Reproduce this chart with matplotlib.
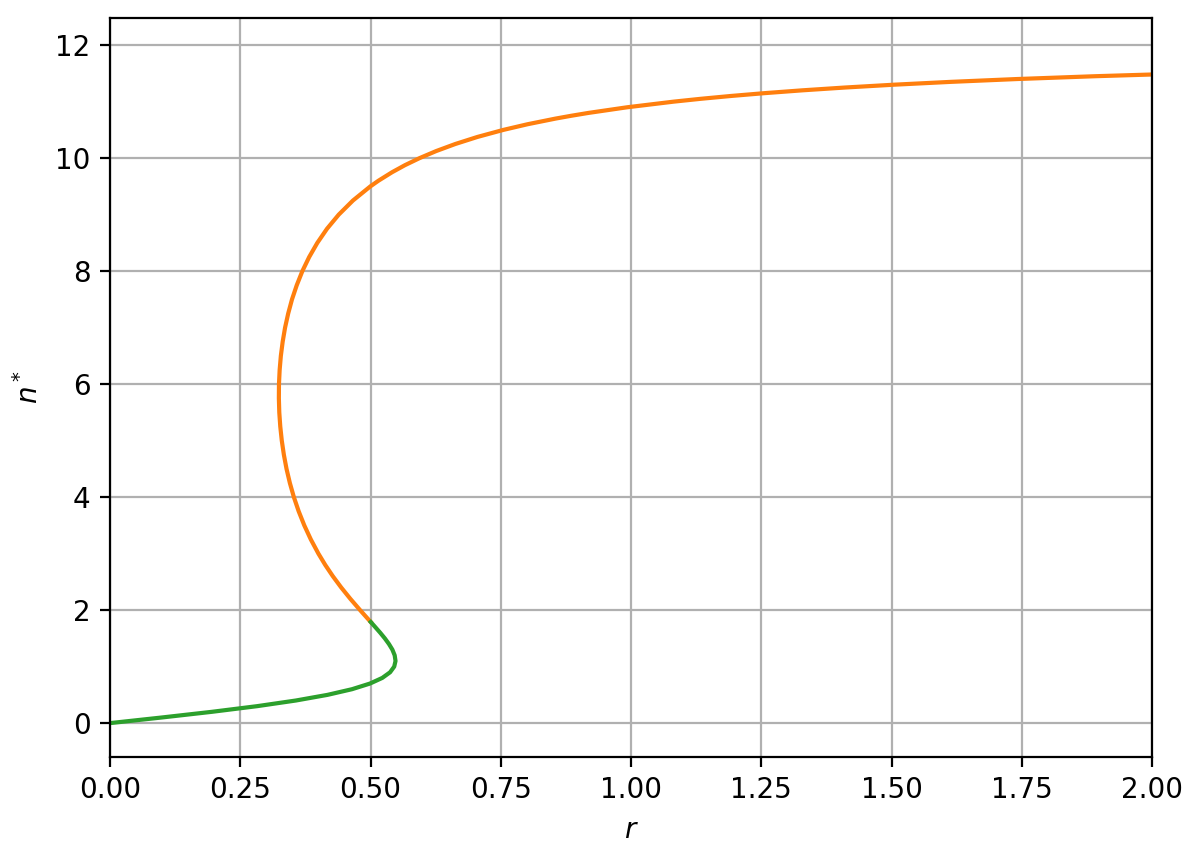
import matplotlib
matplotlib.use("Agg")
import matplotlib.pyplot as plt

# lower (stable) branch
n_low = [0.0, 0.1, 0.2, 0.3, 0.4, 0.5, 0.6, 0.7, 0.8, 0.9, 1.0, 1.1, 1.2,
         1.3, 1.4, 1.5, 1.6, 1.7, 1.75, 1.79]
r_low = [0.0, 0.0998, 0.1956, 0.2823, 0.3567, 0.4174, 0.4644, 0.4989, 0.5226,
         0.5376, 0.5455, 0.5480, 0.5464, 0.5420, 0.5354, 0.5275, 0.5186,
         0.5091, 0.5043, 0.5004]

# middle / upper branch
n_up = [1.79, 1.8, 2.0, 2.2, 2.4, 2.6, 2.8, 3.0, 3.25, 3.5, 3.75, 4.0, 4.25,
        4.5, 4.75, 5.0, 5.25, 5.5, 5.75, 6.0, 6.25, 6.5, 6.75, 7.0, 7.25, 7.5,
        7.75, 8.0, 8.25, 8.5, 8.75, 9.0, 9.25, 9.5, 9.6, 9.75, 9.875, 10.0,
        10.125, 10.25, 10.375, 10.5, 10.6, 10.7, 10.75, 10.8, 10.9, 11.0,
        11.05, 11.1, 11.15, 11.2, 11.25, 11.3, 11.35, 11.4, 11.45, 11.5, 11.55]
r_up = [0.5004, 0.4994, 0.48, 0.4613, 0.4438, 0.4277, 0.4131, 0.4, 0.3855,
        0.3729, 0.3621, 0.3529, 0.3452, 0.3388, 0.3337, 0.3297, 0.3268,
        0.3249, 0.3241, 0.3243, 0.3256, 0.3279, 0.3314, 0.336, 0.3420, 0.3493,
        0.3584, 0.3692, 0.3823, 0.3979, 0.4165, 0.439, 0.4663, 0.4997, 0.5152,
        0.5413, 0.5660, 0.5941, 0.6260, 0.6627, 0.7052, 0.7551, 0.8015,
        0.8552, 0.8854, 0.9181, 0.9925, 1.082, 1.1338, 1.1915, 1.2560, 1.3287,
        1.4111, 1.5053, 1.6140, 1.741, 1.8911, 2.0713, 2.2916]

fig = plt.figure(figsize=(6.005, 4.29), dpi=200)
ax = fig.add_axes([0.0916, 0.1177, 0.8676, 0.8613])

ax.plot(r_up, n_up, color="C1")
ax.plot(r_low, n_low, color="C2")

ax.set_xlim(0, 2)
ax.set_ylim(-0.6, 12.48)
ax.set_xticks([0, 0.25, 0.5, 0.75, 1.0, 1.25, 1.5, 1.75, 2.0])
ax.set_yticks([0, 2, 4, 6, 8, 10, 12])
ax.set_xlabel("$r$")
ax.set_ylabel("$n^*$")
ax.grid(True)

fig.savefig("out.png", dpi=200)
